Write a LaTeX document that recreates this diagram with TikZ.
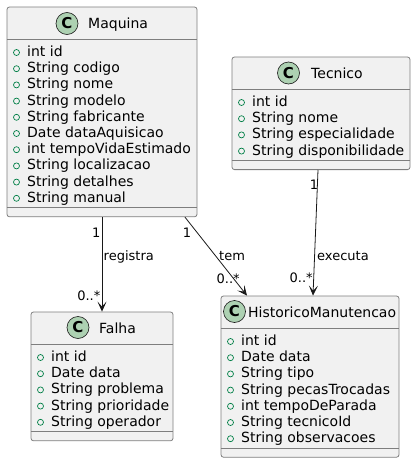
\documentclass[tikz,border=0pt]{standalone}
\usepackage{fontspec}
\setmainfont{DejaVu Sans}
\usetikzlibrary{arrows.meta}
\definecolor{boxfill}{HTML}{F1F1F1}
\definecolor{boxline}{HTML}{7E7E7E}
\definecolor{arrowline}{HTML}{181818}
\definecolor{badgefill}{HTML}{ADD1B2}
\definecolor{visgreen}{HTML}{038048}
\tikzset{
  classbox/.style={draw=boxline, fill=boxfill, line width=0.8pt, rounded corners=2.5pt, inner sep=0pt},
  sepline/.style={draw=boxline, line width=0.8pt},
  badge/.style={circle, draw=arrowline, fill=badgefill, line width=0.6pt, minimum size=22pt, inner sep=0pt, font=\fontsize{15}{15}\selectfont\bfseries},
  classname/.style={anchor=base west, inner sep=0pt, font=\fontsize{14}{16}\selectfont},
  attr/.style={anchor=base west, inner sep=0pt, font=\fontsize{14}{16}\selectfont},
  vis/.style={draw=visgreen, line width=0.7pt},
  assoc/.style={draw=arrowline, line width=0.8pt, -{Stealth[length=10pt,width=9pt,inset=5pt]}},
  mult/.style={inner sep=0pt, font=\fontsize{13}{15}\selectfont},
}
\begin{document}
\begin{tikzpicture}[x=1pt, y=-1pt]

      \useasboundingbox (0,0) rectangle (416,463);

      \node[classbox, minimum width=190pt, minimum height=209.8pt] (maq) at (102,111.9) {};
      \node[classbox, minimum width=178pt, minimum height=112.6pt] (tec) at (321,113.3) {};
      \node[classbox, minimum width=142pt, minimum height=128.8pt] (fal) at (102,376.4) {};
      \node[classbox, minimum width=178pt, minimum height=161.2pt] (his) at (310,376.6) {};

      \draw[sepline] (maq.west |- 0,39) -- (maq.east |- 0,39);
      \draw[sepline] (maq.west |- 0,207.8) -- (maq.east |- 0,207.8);
      \draw[sepline] (tec.west |- 0,89) -- (tec.east |- 0,89);
      \draw[sepline] (tec.west |- 0,160.6) -- (tec.east |- 0,160.6);
      \draw[sepline] (fal.west |- 0,344) -- (fal.east |- 0,344);
      \draw[sepline] (fal.west |- 0,431.8) -- (fal.east |- 0,431.8);
      \draw[sepline] (his.west |- 0,328) -- (his.east |- 0,328);
      \draw[sepline] (his.west |- 0,448.2) -- (his.east |- 0,448.2);

      \node[badge] (maqC) at (67,23.5) {C};
      \node[classname] (maqT) at (88,28) {Maquina};
      \node[badge] (tecC) at (288.5,73) {C};
      \node[classname] (tecT) at (311,78) {Tecnico};
      \node[badge] (falC) at (78,327.5) {C};
      \node[classname] (falT) at (99,333) {Falha};
      \node[badge] (hisC) at (234.5,311.5) {C};
      \node[classname] (hisT) at (248,317) {HistoricoManutencao};

      \foreach \a [count=\i from 0] in {int id, String codigo, String nome, String modelo, String fabricante, Date dataAquisicao, int tempoVidaEstimado, String localizacao, String detalhes, String manual}{
        \node[attr] (maq-\i) at (27,56.5+16.2*\i) {\a};
        \draw[vis] (16.5,52.5+16.2*\i) circle (3pt);
      }
      \foreach \a [count=\i from 0] in {int id, String nome, String especialidade, String disponibilidade}{
        \node[attr] (tec-\i) at (252,106.5+16.2*\i) {\a};
        \draw[vis] (241.5,102.5+16.2*\i) circle (3pt);
      }
      \foreach \a [count=\i from 0] in {int id, Date data, String problema, String prioridade, String operador}{
        \node[attr] (fal-\i) at (51,361.5+16.2*\i) {\a};
        \draw[vis] (40.5,357.5+16.2*\i) circle (3pt);
      }
      \foreach \a [count=\i from 0] in {int id, Date data, String tipo, String pecasTrocadas, int tempoDeParada, String tecnicoId, String observacoes}{
        \node[attr] (his-\i) at (241,345.5+16.2*\i) {\a};
        \draw[vis] (230.5,341.5+16.2*\i) circle (3pt);
      }

      \draw[assoc] (maq.south) -- (fal.north);
      \draw[assoc] ([xshift=83pt]maq.south) -- ([xshift=-63pt]his.north);
      \draw[assoc] ([xshift=-3pt]tec.south) -- ([xshift=3pt]his.north);

      \node[mult, anchor=base east] (reg1) at (100.5,237.5) {1};
      \node[mult, anchor=base west] (regL) at (103.5,260) {registra};
      \node[mult, anchor=base east] (regN) at (100.5,300) {0..*};
      \node[mult, anchor=base] (tem1) at (187,237.5) {1};
      \node[mult, anchor=base west] (temL) at (219,260) {tem};
      \node[mult, anchor=base west] (temN) at (216.5,283) {0..*};
      \node[mult, anchor=base] (exe1) at (314,189) {1};
      \node[mult, anchor=base west] (exeL) at (317,260.5) {executa};
      \node[mult, anchor=base west] (exeN) at (289.5,282.5) {0..*};

\end{tikzpicture}
\end{document}
